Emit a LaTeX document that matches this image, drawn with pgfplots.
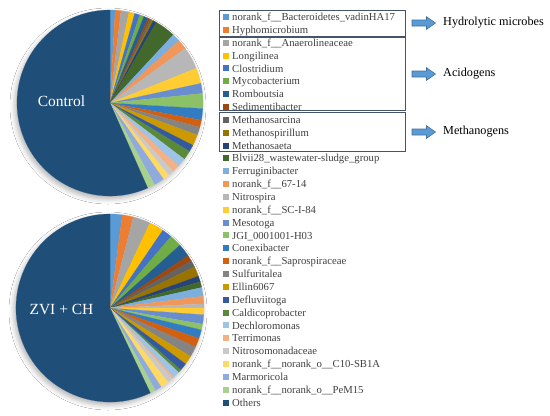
\documentclass[border=0pt]{standalone}
\usepackage{fontspec}
\setmainfont{Liberation Serif}
\usepackage{pgfplots}
\usepackage{pgfplotstable}
\pgfplotsset{compat=1.18}
\usetikzlibrary{shadows.blur}

% Excel series colours, in legend order
\definecolor{c0}{HTML}{5B9BD5}
\definecolor{c1}{HTML}{ED7D31}
\definecolor{c2}{HTML}{A5A5A5}
\definecolor{c3}{HTML}{FFC000}
\definecolor{c4}{HTML}{4472C4}
\definecolor{c5}{HTML}{70AD47}
\definecolor{c6}{HTML}{255E91}
\definecolor{c7}{HTML}{9E480E}
\definecolor{c8}{HTML}{636363}
\definecolor{c9}{HTML}{997300}
\definecolor{c10}{HTML}{264478}
\definecolor{c11}{HTML}{43682B}
\definecolor{c12}{HTML}{7CAFDD}
\definecolor{c13}{HTML}{F1975A}
\definecolor{c14}{HTML}{B7B7B7}
\definecolor{c15}{HTML}{FFCD33}
\definecolor{c16}{HTML}{698ED0}
\definecolor{c17}{HTML}{8CC168}
\definecolor{c18}{HTML}{327DC2}
\definecolor{c19}{HTML}{D26012}
\definecolor{c20}{HTML}{848484}
\definecolor{c21}{HTML}{CC9A00}
\definecolor{c22}{HTML}{335AA1}
\definecolor{c23}{HTML}{5A8A39}
\definecolor{c24}{HTML}{9DC3E6}
\definecolor{c25}{HTML}{F4B183}
\definecolor{c26}{HTML}{C9C9C9}
\definecolor{c27}{HTML}{FFD966}
\definecolor{c28}{HTML}{8FAADC}
\definecolor{c29}{HTML}{A9D18E}
\definecolor{c30}{HTML}{1F4E79}
\definecolor{boxcol}{RGB}{68,84,106}
\definecolor{arrfill}{RGB}{91,155,213}
\definecolor{arrdraw}{RGB}{65,113,156}
\definecolor{legfg}{RGB}{64,64,64}

% relative abundance (%)
\pgfplotstableread{
name ctrl zvi
norank_f__Bacteroidetes_vadinHA17 0.9 2.1
Hyphomicrobium 1.0 1.9
norank_f__Anaerolineaceae 1.4 3.0
Longilinea 1.0 2.5
Clostridium 0.9 1.75
Mycobacterium 0.75 2.1
Romboutsia 0.8 2.25
Sedimentibacter 0.33 1.0
Methanosarcina 0.33 1.2
Methanospirillum 0.3 1.7
Methanosaeta 0.6 1.0
Blvii28_wastewater-sludge_group 3.6 1.0
Ferruginibacter 1.4 1.5
norank_f__67-14 1.7 1.3
Nitrospira 3.9 0.7
norank_f__SC-I-84 2.7 1.15
Mesotoga 1.75 1.6
JGI_0001001-H03 2.6 1.0
Conexibacter 2.0 1.5
norank_f__Saprospiraceae 1.25 1.55
Sulfuritalea 1.4 1.8
Ellin6067 1.9 1.55
Defluviitoga 1.2 1.3
Caldicoprobacter 1.6 0.55
Dechloromonas 1.55 1.15
Terrimonas 1.3 0.35
Nitrosomonadaceae 1.0 0.95
norank_f__norank_o__C10-SB1A 1.1 1.4
Marmoricola 1.8 1.15
norank_f__norank_o__PeM15 1.3 0.95
Others 56.64 57.05
}\abund

\tikzset{
  legtext/.style={font=\fontsize{10.7bp}{12bp}\selectfont, text=legfg, anchor=base west, inner sep=0pt},
  bigtext/.style={font=\fontsize{12.2bp}{14bp}\selectfont, anchor=west, inner sep=0pt},
}

% commands are collected here, with numbers expanded, and replayed in the axis
\gdef\allcmds{}
% #1 column, #2 cx, #3 cy, #4 radius
\newcommand\buildpie[4]{%
  \def\acc{0}%
  \pgfplotsforeachungrouped \i in {0,...,30}{%
    \pgfplotstablegetelem{\i}{#1}\of{\abund}%
    \pgfmathsetmacro\accnext{\acc+3.6*\pgfplotsretval}%
    \xdef\allcmds{\unexpanded\expandafter{\allcmds}%
      \noexpand\filldraw[c\i, line width=0.2bp] (axis cs:#2,#3) -- ++({90-\acc}:#4bp)
        arc[start angle={90-\acc}, end angle={90-\accnext}, radius=#4bp] -- cycle;}%
    \let\acc\accnext
  }%
}
\buildpie{ctrl}{110}{103}{93}
\buildpie{zvi}{110}{308}{94}

\pgfplotsforeachungrouped \i in {0,...,30}{%
  \pgfplotstablegetelem{\i}{name}\of{\abund}%
  \pgfmathsetmacro\yy{17+12.85*\i}%
  \pgfmathsetmacro\ya{\yy-3}%
  \pgfmathsetmacro\yb{\yy+3}%
  \pgfmathsetmacro\yt{\yy+3.6}%
  \xdef\allcmds{\unexpanded\expandafter{\allcmds}%
    \noexpand\fill[c\i] (axis cs:223,\ya) rectangle (axis cs:229,\yb);
    \noexpand\node[legtext] at (axis cs:232,\yt) {\detokenize\expandafter{\pgfplotsretval}};}%
}

\begin{document}
\begin{tikzpicture}
\begin{axis}[
  hide axis, scale only axis,
  width=550bp, height=412bp,
  xmin=0, xmax=550, ymin=0, ymax=412,
  y dir=reverse, clip=false,
]
\fill[white] (axis cs:0,0) rectangle (axis cs:550,412);

% pie shadows
\fill[white, blur shadow={shadow xshift=-2bp, shadow yshift=-3bp, shadow blur radius=5bp, shadow opacity=30}]
  (axis cs:110,103) circle[radius=93bp];
\fill[white, blur shadow={shadow xshift=-2bp, shadow yshift=-3bp, shadow blur radius=5bp, shadow opacity=30}]
  (axis cs:110,308) circle[radius=94bp];

% group boxes
\draw[boxcol, line width=0.8bp] (axis cs:219,10.5) rectangle (axis cs:405,36);
\draw[boxcol, line width=0.8bp] (axis cs:219,37.5) rectangle (axis cs:405,110.5);
\draw[boxcol, line width=0.8bp] (axis cs:219,112.5) rectangle (axis cs:405,151);

\allcmds

\node[text=white, font=\fontsize{15.5bp}{18bp}\selectfont] at (axis cs:61.5,101) {Control};
\node[text=white, font=\fontsize{15.5bp}{18bp}\selectfont] at (axis cs:61.5,309) {ZVI + CH};

% arrows to the groups
\filldraw[arrfill, draw=arrdraw, line width=0.6bp] (axis cs:412,20) -- (axis cs:426.5,20) -- (axis cs:426.5,16.7)
  -- (axis cs:435.5,23) -- (axis cs:426.5,29.3) -- (axis cs:426.5,26) -- (axis cs:412,26) -- cycle;
\filldraw[arrfill, draw=arrdraw, line width=0.6bp] (axis cs:412,71) -- (axis cs:426.5,71) -- (axis cs:426.5,67.7)
  -- (axis cs:435.5,74) -- (axis cs:426.5,80.3) -- (axis cs:426.5,77) -- (axis cs:412,77) -- cycle;
\filldraw[arrfill, draw=arrdraw, line width=0.6bp] (axis cs:412,129) -- (axis cs:426.5,129) -- (axis cs:426.5,125.7)
  -- (axis cs:435.5,132) -- (axis cs:426.5,138.3) -- (axis cs:426.5,135) -- (axis cs:412,135) -- cycle;
\node[bigtext] at (axis cs:443,23) {Hydrolytic microbes};
\node[bigtext] at (axis cs:443,74) {Acidogens};
\node[bigtext] at (axis cs:443,132) {Methanogens};
\end{axis}
\end{tikzpicture}
\end{document}
